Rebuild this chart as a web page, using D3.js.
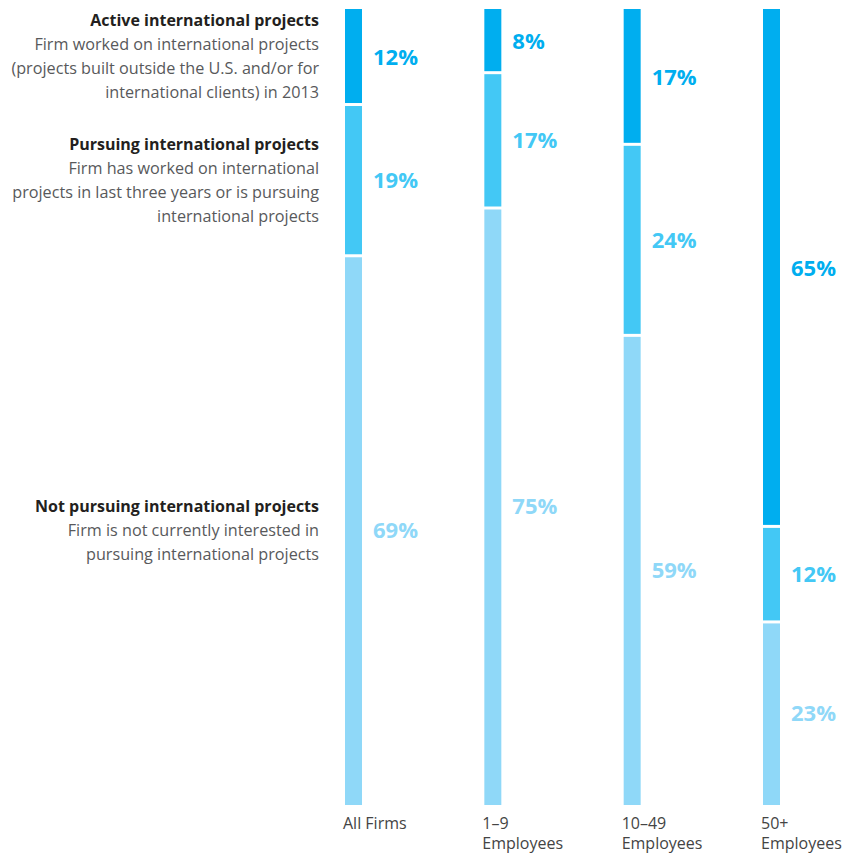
<!DOCTYPE html>
<html>
<head>
<meta charset="utf-8">
<script src="https://cdn.jsdelivr.net/npm/d3@7"></script>
<style>
  body { margin: 0; background: #fff; }
  svg { display: block; font-family: "Open Sans", "Noto Sans", sans-serif; }
</style>
</head>
<body>
<script>
// categories and values (percent of firms)
const categories = ["All Firms", "1–9|Employees", "10–49|Employees", "50+|Employees"];
const active = [12, 8, 17, 65];
const pursuing = [19, 17, 24, 12];
const notPursuing = [69, 75, 59, 23];

const seriesKeys = ["active", "pursuing", "notPursuing"];
const seriesTitles = ["Active international projects", "Pursuing international projects", "Not pursuing international projects"];
const seriesNotes = [
  ["Firm worked on international projects", "(projects built outside the U.S. and/or for", "international clients) in 2013"],
  ["Firm has worked on international", "projects in last three years or is pursuing", "international projects"],
  ["Firm is not currently interested in", "pursuing international projects"]
];
const colors = ["#00aeef", "#43c8f5", "#8fd8f8"];

const width = 843, height = 853;
const barTop = 9, barBottom = 805;
const barW = 17;

const data = categories.map((c, i) => ({
  cat: c, active: active[i], pursuing: pursuing[i], notPursuing: notPursuing[i]
}));

const stack = d3.stack().keys(seriesKeys);
const layers = stack(data);

const x = d3.scalePoint()
  .domain(categories)
  .range([345, 763]);

const y = d3.scaleLinear()
  .domain([0, 100])
  .range([barTop, barBottom]);

const color = d3.scaleOrdinal().domain(seriesKeys).range(colors);

const svg = d3.select("body").append("svg")
  .attr("width", width)
  .attr("height", height);

// bars
const gap = 1.5;
layers.forEach(layer => {
  const g = svg.append("g");
  g.selectAll("rect")
    .data(layer)
    .join("rect")
      .attr("x", d => x(d.data.cat))
      .attr("y", d => y(d[0]) + (d[0] > 0 ? gap : 0))
      .attr("width", barW)
      .attr("height", d => y(d[1]) - y(d[0]) - (d[0] > 0 ? gap : 0) - (d[1] < 100 ? gap : 0))
      .attr("fill", color(layer.key));

  g.selectAll("text")
    .data(layer)
    .join("text")
      .attr("x", d => x(d.data.cat) + barW + 11)
      .attr("y", d => (y(d[0]) + y(d[1])) / 2)
      .attr("dy", "0.36em")
      .attr("fill", color(layer.key))
      .attr("font-size", 22)
      .attr("font-weight", 700)
      .text(d => d.data[layer.key] + "%");
});

// legend text, centred on the All Firms segments
const first = layers.map(l => l[0]);
const lineH = 24;
first.forEach((d, i) => {
  const lines = [seriesTitles[i]].concat(seriesNotes[i]);
  const cy = (y(d[0]) + y(d[1])) / 2;
  const y0 = cy - (lines.length - 1) * lineH / 2;
  const t = svg.append("text")
    .attr("text-anchor", "end");
  lines.forEach((s, j) => {
    t.append("tspan")
      .attr("x", 319)
      .attr("y", y0 + j * lineH)
      .attr("dy", "0.35em")
      .attr("font-size", j === 0 ? 16 : 16.2)
      .attr("font-weight", j === 0 ? 700 : 400)
      .attr("fill", j === 0 ? "#231f20" : "#58595b")
      .text(s);
  });
});

// category labels
const xAxis = svg.append("g");
categories.forEach(c => {
  const t = xAxis.append("text")
    .attr("font-size", 16)
    .attr("fill", "#444");
  c.split("|").forEach((s, j) => {
    t.append("tspan")
      .attr("x", x(c) - 2)
      .attr("y", 823 + j * 20)
      .attr("dy", "0.35em")
      .text(s);
  });
});
</script>
</body>
</html>
